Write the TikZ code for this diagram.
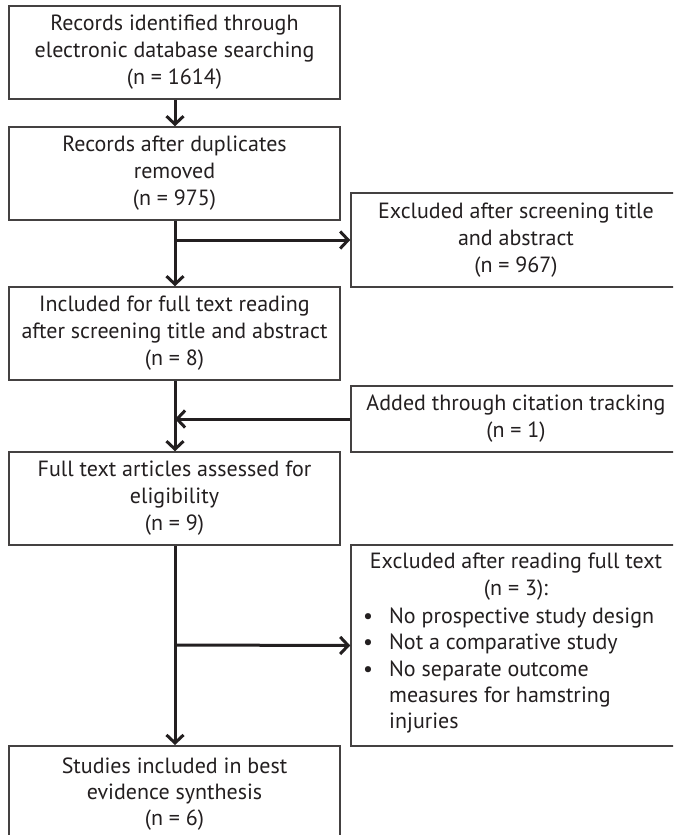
\documentclass[tikz,border=0pt]{standalone}
\usepackage{fontspec}
\setmainfont{PT Sans}
\usetikzlibrary{arrows.meta}
\definecolor{ink}{HTML}{231F20}
\tikzset{
  box/.style={draw=ink!85, line width=1.5pt, rectangle, inner sep=0pt, text=ink, align=center,
    font=\fontsize{22}{27}\selectfont},
  txt/.style={text=ink, inner sep=0pt, font=\fontsize{22}{26.3}\selectfont},
  flow/.style={draw=ink, line width=3pt, -{Straight Barb[length=8pt,width=17pt,line width=3pt]}}
}
\begin{document}
\begin{tikzpicture}[x=1pt,y=-1pt]
\useasboundingbox (0,0) rectangle (673,835);
\clip (0,0) rectangle (673,835);
\fill[white] (0,0) rectangle (673,835);
% left column boxes (x 9..340)
\node[box, minimum width=331pt, minimum height=93pt] (b1) at (174.5,52.5)
  {Records identified through\\electronic database searching\\(n = 1614)};
\node[box, minimum width=331pt, minimum height=93pt] (b2) at (174.5,173.5)
  {Records after duplicates\\removed\\(n = 975)};
\node[box, minimum width=331pt, minimum height=93pt] (b3) at (174.5,333.5)
  {Included for full text reading\\after screening title and abstract\\(n = 8)};
\node[box, minimum width=331pt, minimum height=93pt] (b4) at (174.5,498.5)
  {Full text articles assessed for\\eligibility\\(n = 9)};
\node[box, minimum width=331pt, minimum height=100pt, anchor=north] (b5) at (174.5,745)
  {};
\node[txt, align=center] (b5t) at (174.5,794) {Studies included in best\\evidence synthesis\\(n = 6)};
% right column boxes (x 351..681)
\node[box, minimum width=330pt, minimum height=94pt] (r1) at (516,240)
  {Excluded after screening title\\and abstract\\(n = 967)};
\node[box, minimum width=330pt, minimum height=66pt] (r2) at (516,419)
  {Added through citation tracking\\(n = 1)};
\node[box, minimum width=330pt, minimum height=201pt] (r3) at (516,645.5) {};
\node[txt, align=center, anchor=north] (r3h) at (516,553)
  {Excluded after reading full text\\(n = 3):};
\node[txt, align=left, anchor=north west] (r3l) at (363,605)
  {\begin{tabular}{@{}p{26pt}@{}l@{}}
  \textbullet & No prospective study design\\
  \textbullet & Not a comparative study\\
  \textbullet & No separate outcome\\
   & measures for hamstring\\
   & injuries
  \end{tabular}};
% junction coordinates
\coordinate (j1) at (175,240);
\coordinate (j2) at (175,419);
\coordinate (j3) at (175,645);
% connectors
\draw[flow] (b1.south -| j1) -- (b2.north -| j1);
\draw[flow] (b2.south -| j1) -- (b3.north -| j1);
\draw[flow] (j1) -- (r1.west);
\draw[flow] (b3.south -| j2) -- (b4.north -| j2);
\draw[flow] (r2.west) -- (j2);
\draw[flow] (b4.south -| j3) -- (b5.north -| j3);
\draw[flow] (j3) -- (r3.west);
\end{tikzpicture}
\end{document}
